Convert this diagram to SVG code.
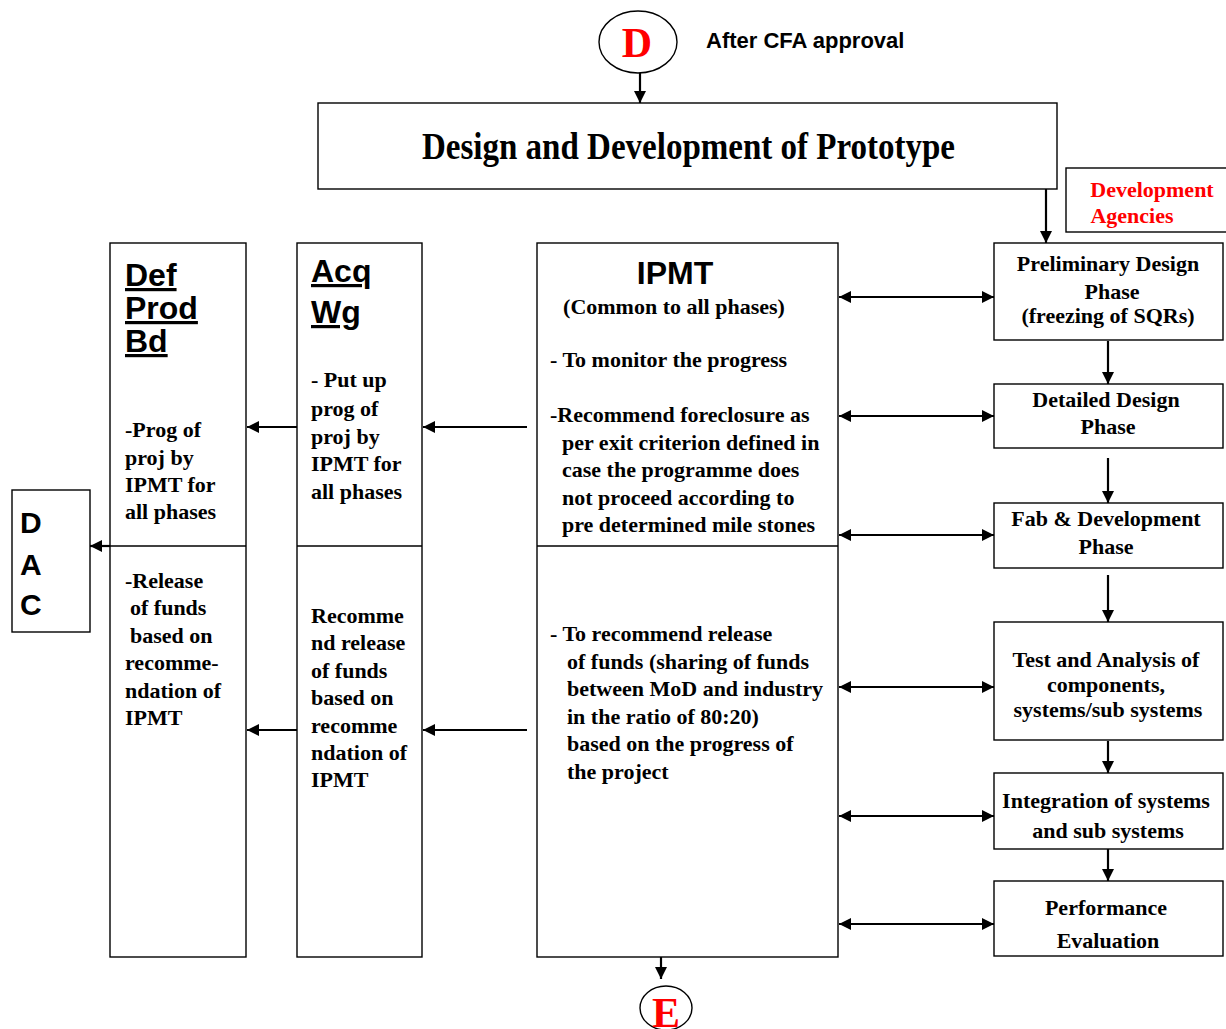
<svg xmlns="http://www.w3.org/2000/svg" width="1226" height="1029" viewBox="0 0 1226 1029">
  <defs>
    <marker id="ah" markerUnits="userSpaceOnUse" markerWidth="12" markerHeight="12" viewBox="0 0 12 12" refX="12" refY="6" orient="auto-start-reverse">
      <path d="M0,0 L12,6 L0,12 z" fill="#000"/>
    </marker>
    <style>
      .box { fill: #fff; stroke: #000; stroke-width: 1.4; }
      .div { stroke: #000; stroke-width: 1.4; fill: none; }
      .ln { stroke: #000; stroke-width: 2.2; fill: none; }
      .one { marker-end: url(#ah); }
      .two { marker-start: url(#ah); marker-end: url(#ah); }
      .t { font-family: "Liberation Serif", "Times New Roman", serif; font-weight: bold; font-size: 22px; fill: #000; }
      .c { text-anchor: middle; }
      .h { font-family: "Liberation Sans", Arial, sans-serif; font-weight: bold; font-size: 32px; fill: #000; }
      .u { text-decoration: underline; }
      .red { fill: #f00; }
      .big { font-size: 42px; }
      .title { font-size: 38px; }
      .dac { font-size: 30px; }
      .note { font-family: "Liberation Sans", Arial, sans-serif; font-weight: bold; font-size: 22px; fill: #000; }
    </style>
  </defs>
  <rect width="1226" height="1029" fill="#fff"/>

  <!-- connectors -->
  <g id="connectors">
    <line class="ln one" x1="640" y1="73" x2="640" y2="103"/>
    <line class="ln one" x1="1046" y1="189" x2="1046" y2="243"/>
    <line class="ln one" x1="1108" y1="341" x2="1108" y2="384"/>
    <line class="ln one" x1="1108" y1="458" x2="1108" y2="503"/>
    <line class="ln one" x1="1108" y1="575" x2="1108" y2="622"/>
    <line class="ln one" x1="1108" y1="741" x2="1108" y2="773"/>
    <line class="ln one" x1="1108" y1="849" x2="1108" y2="881"/>
    <line class="ln two" x1="839" y1="297" x2="994" y2="297"/>
    <line class="ln two" x1="839" y1="416" x2="994" y2="416"/>
    <line class="ln two" x1="839" y1="535" x2="994" y2="535"/>
    <line class="ln two" x1="839" y1="687" x2="994" y2="687"/>
    <line class="ln two" x1="839" y1="816" x2="994" y2="816"/>
    <line class="ln two" x1="839" y1="924" x2="994" y2="924"/>
    <line class="ln one" x1="527" y1="427" x2="423" y2="427"/>
    <line class="ln one" x1="297" y1="427" x2="247" y2="427"/>
    <line class="ln one" x1="527" y1="730" x2="423" y2="730"/>
    <line class="ln one" x1="297" y1="730" x2="247" y2="730"/>
    <line class="ln one" x1="110" y1="546" x2="90" y2="546"/>
    <line class="ln one" x1="661" y1="957" x2="661" y2="979"/>
  </g>

  <!-- start marker D -->
  <g id="node-d">
    <ellipse cx="638" cy="42" rx="39" ry="31" fill="#fff" stroke="#000" stroke-width="1.4"/>
    <text class="t c red big" x="637" y="57">D</text>
    <text class="note" x="706" y="48">After CFA approval</text>
  </g>

  <!-- title -->
  <g id="node-title">
    <rect class="box" x="318" y="103" width="739" height="86"/>
    <text class="t title" x="422" y="159" textLength="533" lengthAdjust="spacingAndGlyphs">Design and Development of Prototype</text>
  </g>

  <!-- development agencies -->
  <g id="node-agencies">
    <rect class="box" x="1066" y="168" width="170" height="64"/>
    <text class="t c red" x="1152" y="197">Development</text>
    <text class="t c red" x="1132" y="223">Agencies</text>
  </g>

  <!-- DAC -->
  <g id="node-dac">
    <rect class="box" x="12" y="490" width="78" height="142"/>
    <text class="h dac" x="20" y="533">D</text>
    <text class="h dac" x="20" y="575">A</text>
    <text class="h dac" x="20" y="615">C</text>
  </g>

  <!-- Def Prod Bd -->
  <g id="node-dpb">
    <rect class="box" x="110" y="243" width="136" height="714"/>
    <line class="div" x1="110" y1="546" x2="246" y2="546"/>
    <text class="h u" x="125" y="286">Def</text>
    <text class="h u" x="125" y="319">Prod</text>
    <text class="h u" x="125" y="352">Bd</text>
    <text class="t" x="125" y="437">-Prog of</text>
    <text class="t" x="125" y="465">proj by</text>
    <text class="t" x="125" y="492">IPMT for</text>
    <text class="t" x="125" y="519">all phases</text>
    <text class="t" x="125" y="588">-Release</text>
    <text class="t" x="130" y="615">of funds</text>
    <text class="t" x="130" y="643">based on</text>
    <text class="t" x="125" y="670">recomme-</text>
    <text class="t" x="125" y="698">ndation of</text>
    <text class="t" x="125" y="725">IPMT</text>
  </g>

  <!-- Acq Wg -->
  <g id="node-acq">
    <rect class="box" x="297" y="243" width="125" height="714"/>
    <line class="div" x1="297" y1="546" x2="422" y2="546"/>
    <text class="h u" x="311" y="282">Acq</text>
    <text class="h u" x="311" y="323">Wg</text>
    <text class="t" x="311" y="387">- Put up</text>
    <text class="t" x="311" y="416">prog of</text>
    <text class="t" x="311" y="444">proj by</text>
    <text class="t" x="311" y="471">IPMT for</text>
    <text class="t" x="311" y="499">all phases</text>
    <text class="t" x="311" y="623">Recomme</text>
    <text class="t" x="311" y="650">nd release</text>
    <text class="t" x="311" y="678">of funds</text>
    <text class="t" x="311" y="705">based on</text>
    <text class="t" x="311" y="733">recomme</text>
    <text class="t" x="311" y="760">ndation of</text>
    <text class="t" x="311" y="787">IPMT</text>
  </g>

  <!-- IPMT -->
  <g id="node-ipmt">
    <rect class="box" x="537" y="243" width="301" height="714"/>
    <line class="div" x1="537" y1="546" x2="838" y2="546"/>
    <text class="h c" x="675" y="284">IPMT</text>
    <text class="t c" x="674" y="314">(Common to all phases)</text>
    <text class="t" x="550" y="367">- To monitor the progress</text>
    <text class="t" x="550" y="422">-Recommend foreclosure as</text>
    <text class="t" x="562" y="450">per exit criterion defined in</text>
    <text class="t" x="562" y="477">case the programme does</text>
    <text class="t" x="562" y="505">not proceed according to</text>
    <text class="t" x="562" y="532">pre determined mile stones</text>
    <text class="t" x="550" y="641">- To recommend release</text>
    <text class="t" x="567" y="669">of funds (sharing of funds</text>
    <text class="t" x="567" y="696">between MoD and industry</text>
    <text class="t" x="567" y="724">in the ratio of 80:20)</text>
    <text class="t" x="567" y="751">based on the progress of</text>
    <text class="t" x="567" y="779">the project</text>
  </g>

  <!-- phases -->
  <g id="node-prelim">
    <rect class="box" x="994" y="243" width="229" height="97"/>
    <text class="t c" x="1108" y="271">Preliminary Design</text>
    <text class="t c" x="1112" y="299">Phase</text>
    <text class="t c" x="1108" y="323">(freezing of SQRs)</text>
  </g>
  <g id="node-detailed">
    <rect class="box" x="994" y="384" width="229" height="64"/>
    <text class="t c" x="1106" y="407">Detailed Design</text>
    <text class="t c" x="1108" y="434">Phase</text>
  </g>
  <g id="node-fab">
    <rect class="box" x="994" y="503" width="229" height="65"/>
    <text class="t c" x="1106" y="526">Fab &amp; Development</text>
    <text class="t c" x="1106" y="554">Phase</text>
  </g>
  <g id="node-test">
    <rect class="box" x="994" y="622" width="229" height="118"/>
    <text class="t c" x="1106" y="667">Test and Analysis of</text>
    <text class="t c" x="1106" y="692">components,</text>
    <text class="t c" x="1108" y="717">systems/sub systems</text>
  </g>
  <g id="node-integration">
    <rect class="box" x="994" y="773" width="229" height="76"/>
    <text class="t c" x="1106" y="808">Integration of systems</text>
    <text class="t c" x="1108" y="838">and sub systems</text>
  </g>
  <g id="node-performance">
    <rect class="box" x="994" y="881" width="229" height="75"/>
    <text class="t c" x="1106" y="915">Performance</text>
    <text class="t c" x="1108" y="948">Evaluation</text>
  </g>

  <!-- end marker E -->
  <g id="node-e">
    <ellipse cx="666" cy="1008" rx="26" ry="22" fill="#fff" stroke="#000" stroke-width="1.4"/>
    <text class="t c red big" x="666" y="1027">E</text>
  </g>
</svg>
